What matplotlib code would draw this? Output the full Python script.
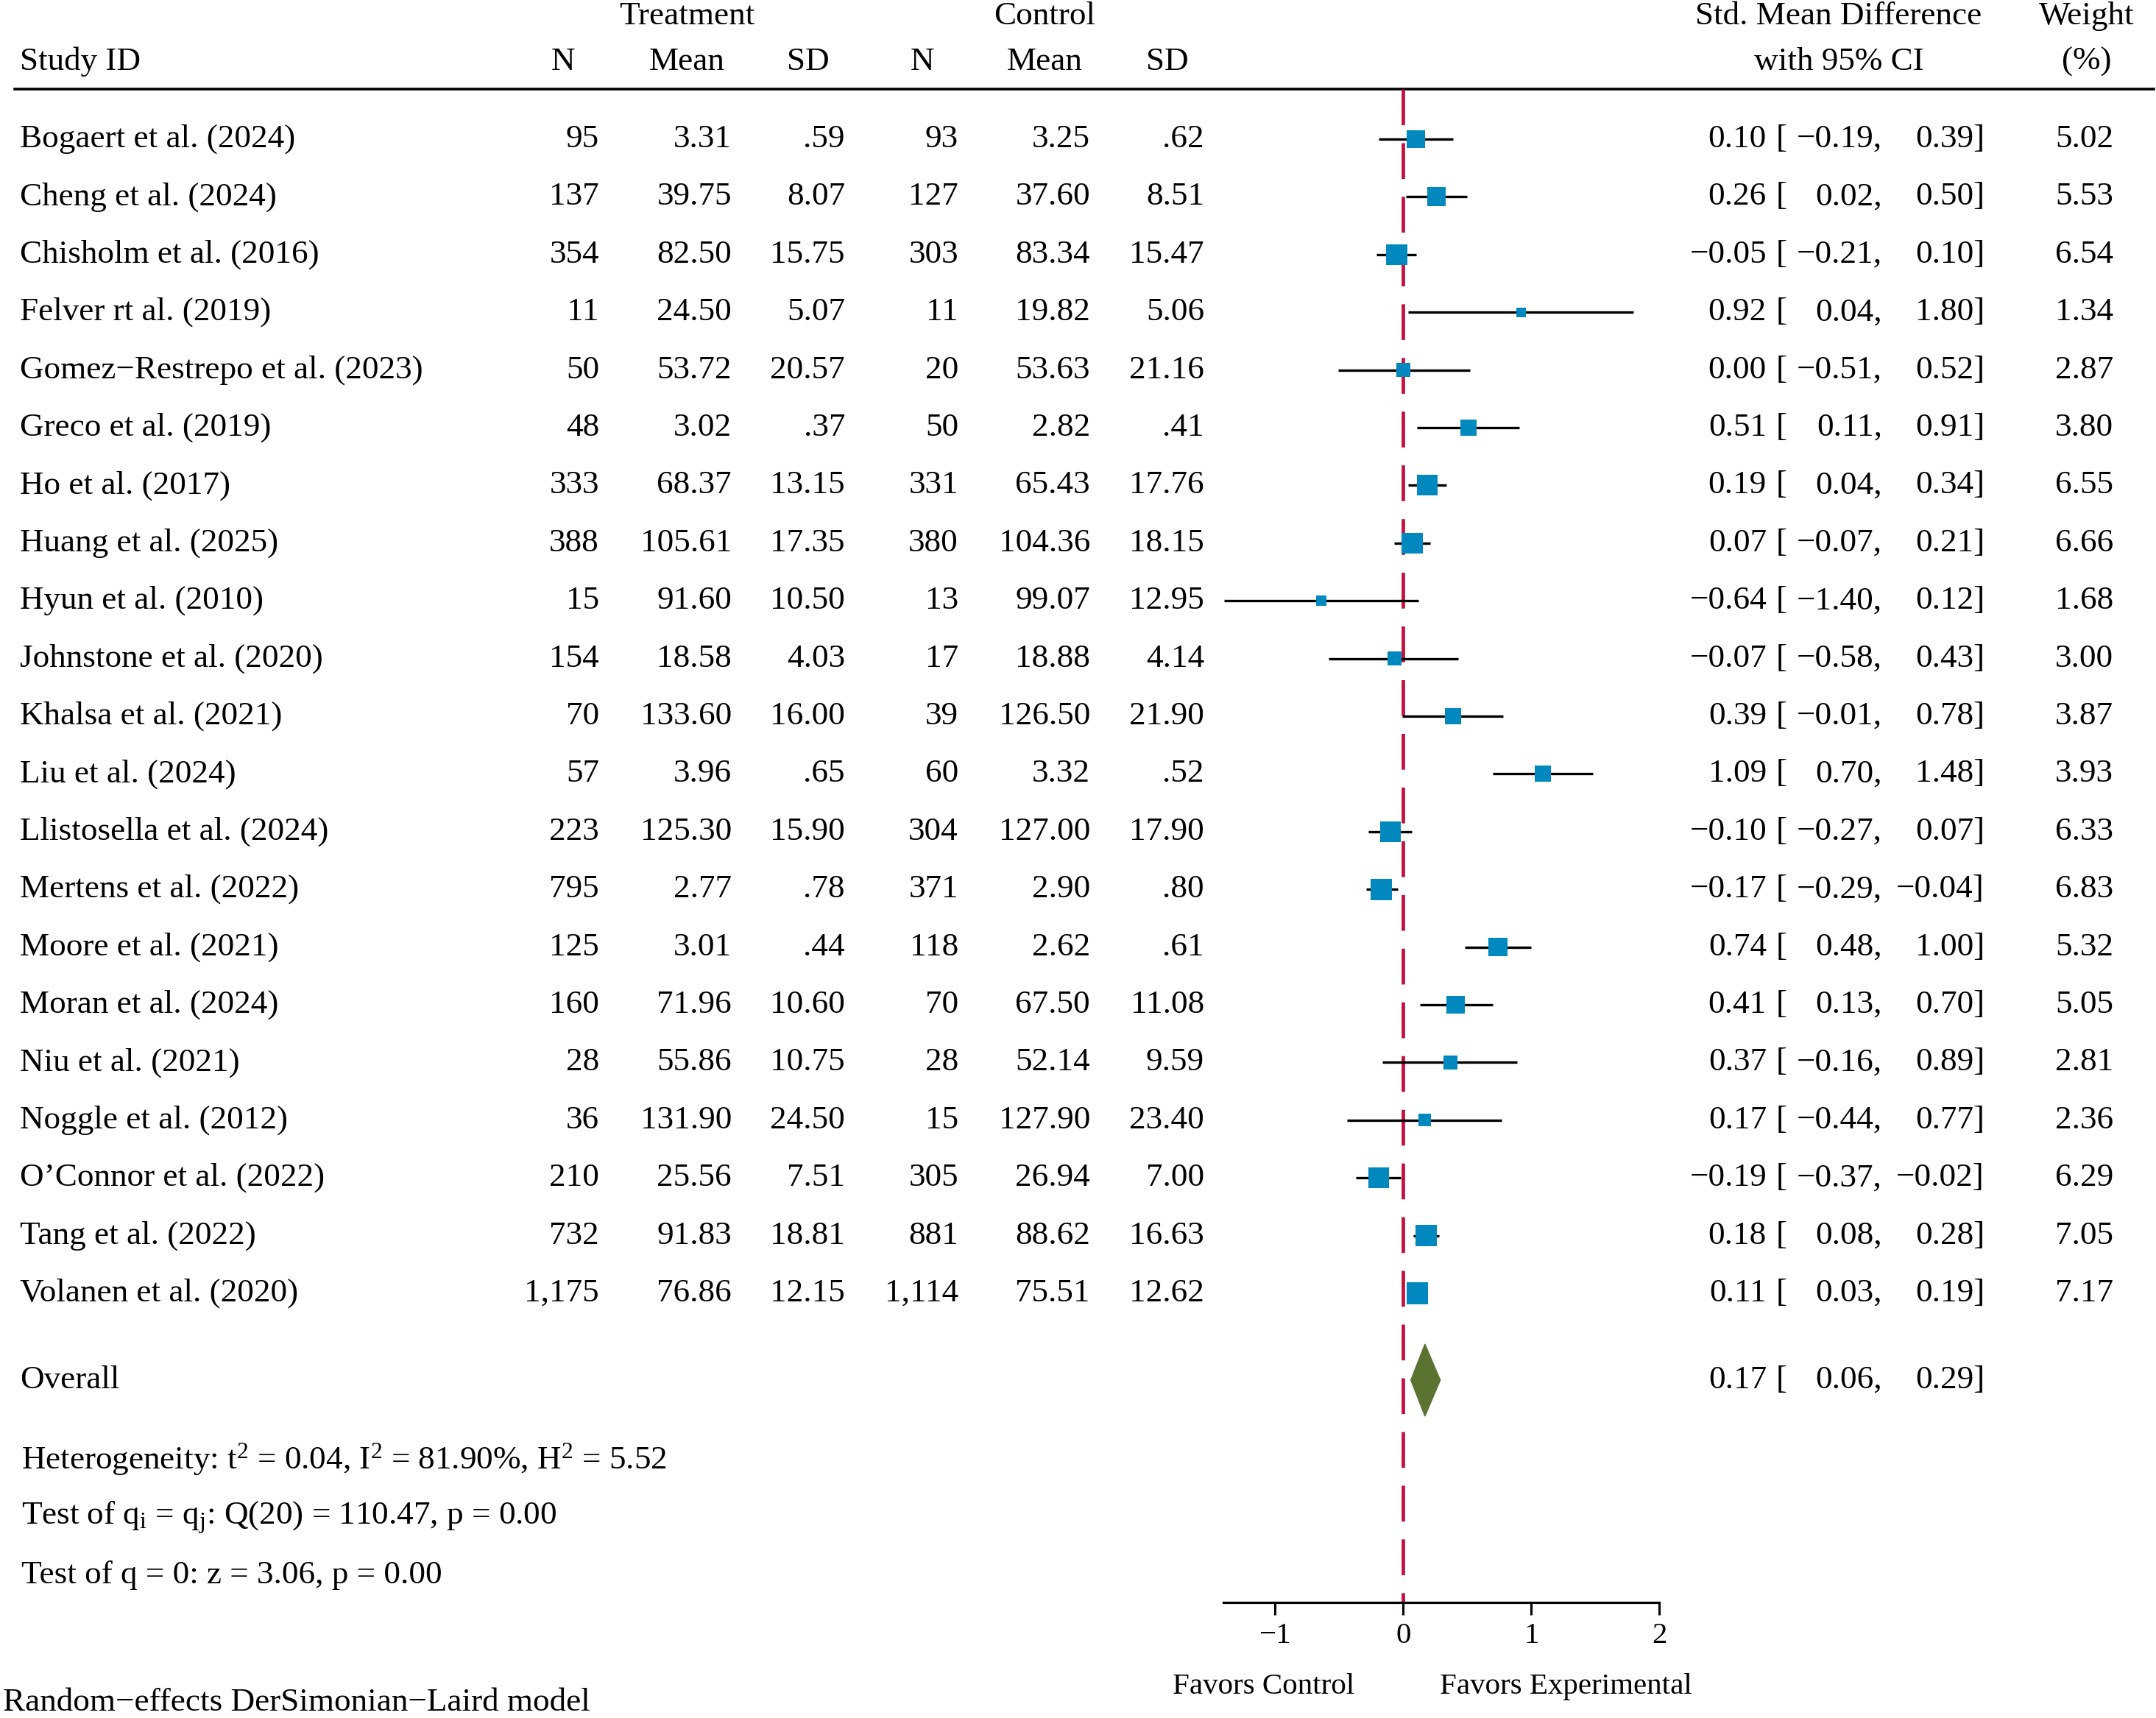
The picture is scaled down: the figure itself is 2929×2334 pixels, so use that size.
"""
Forest plot: standardized mean difference, random-effects meta-analysis
"""

import matplotlib
matplotlib.use('Agg')
import matplotlib.pyplot as plt
from matplotlib.patches import Polygon
import numpy as np

#---------------------------------------------------------------------------------------------------
# Data
#---------------------------------------------------------------------------------------------------

studies = ['Bogaert et al. (2024)', 'Cheng et al. (2024)', 'Chisholm et al. (2016)',
           'Felver rt al. (2019)', 'Gomez\u2212Restrepo et al. (2023)', 'Greco et al. (2019)',
           'Ho et al. (2017)', 'Huang et al. (2025)', 'Hyun et al. (2010)',
           'Johnstone et al. (2020)', 'Khalsa et al. (2021)', 'Liu et al. (2024)',
           'Llistosella et al. (2024)', 'Mertens et al. (2022)', 'Moore et al. (2021)',
           'Moran et al. (2024)', 'Niu et al. (2021)', 'Noggle et al. (2012)',
           'O\u2019Connor et al. (2022)', 'Tang et al. (2022)', 'Volanen et al. (2020)']

t_n = [95, 137, 354, 11, 50, 48, 333, 388, 15, 154, 70, 57, 223, 795, 125, 160, 28, 36, 210, 732, 1175]
t_mean = [3.31, 39.75, 82.50, 24.50, 53.72, 3.02, 68.37, 105.61, 91.60, 18.58, 133.60, 3.96,
          125.30, 2.77, 3.01, 71.96, 55.86, 131.90, 25.56, 91.83, 76.86]
t_sd = [0.59, 8.07, 15.75, 5.07, 20.57, 0.37, 13.15, 17.35, 10.50, 4.03, 16.00, 0.65, 15.90,
        0.78, 0.44, 10.60, 10.75, 24.50, 7.51, 18.81, 12.15]

c_n = [93, 127, 303, 11, 20, 50, 331, 380, 13, 17, 39, 60, 304, 371, 118, 70, 28, 15, 305, 881, 1114]
c_mean = [3.25, 37.60, 83.34, 19.82, 53.63, 2.82, 65.43, 104.36, 99.07, 18.88, 126.50, 3.32,
          127.00, 2.90, 2.62, 67.50, 52.14, 127.90, 26.94, 88.62, 75.51]
c_sd = [0.62, 8.51, 15.47, 5.06, 21.16, 0.41, 17.76, 18.15, 12.95, 4.14, 21.90, 0.52, 17.90,
        0.80, 0.61, 11.08, 9.59, 23.40, 7.00, 16.63, 12.62]

smd = [0.10, 0.26, -0.05, 0.92, 0.00, 0.51, 0.19, 0.07, -0.64, -0.07, 0.39, 1.09, -0.10, -0.17,
       0.74, 0.41, 0.37, 0.17, -0.19, 0.18, 0.11]
ci_lo = [-0.19, 0.02, -0.21, 0.04, -0.51, 0.11, 0.04, -0.07, -1.40, -0.58, -0.01, 0.70, -0.27,
         -0.29, 0.48, 0.13, -0.16, -0.44, -0.37, 0.08, 0.03]
ci_hi = [0.39, 0.50, 0.10, 1.80, 0.52, 0.91, 0.34, 0.21, 0.12, 0.43, 0.78, 1.48, 0.07, -0.04,
         1.00, 0.70, 0.89, 0.77, -0.02, 0.28, 0.19]
weight = [5.02, 5.53, 6.54, 1.34, 2.87, 3.80, 6.55, 6.66, 1.68, 3.00, 3.87, 3.93, 6.33, 6.83,
          5.32, 5.05, 2.81, 2.36, 6.29, 7.05, 7.17]

overall = (0.17, 0.06, 0.29)

stats_lines = ['Heterogeneity: t$^{2}$ = 0.04, I$^{2}$ = 81.90%, H$^{2}$ = 5.52',
               'Test of q$_{\\mathrm{i}}$ = q$_{\\mathrm{j}}$: Q(20) = 110.47, p = 0.00',
               'Test of q = 0: z = 3.06, p = 0.00']
model_note = 'Random\u2212effects DerSimonian\u2212Laird model'

xticks = [-1, 0, 1, 2]

#---------------------------------------------------------------------------------------------------
# Styling / layout (pixels on a 2929 x 2334 canvas)
#---------------------------------------------------------------------------------------------------

W, H = 2929, 2334
row0, drow = 189, 78.4          # pixel y of first study row, row spacing
fs = 32.5                       # table text
fs_small = 29.5                 # tick labels / favors labels
blue = '#0088BF'
red = '#C4103E'
green = '#5A7330'

plt.rcParams['font.family'] = ['Liberation Serif', 'DejaVu Serif']
plt.rcParams['mathtext.fontset'] = 'custom'
plt.rcParams['mathtext.rm'] = 'Liberation Serif'
plt.rcParams['mathtext.it'] = 'Liberation Serif:italic'
plt.rcParams['axes.unicode_minus'] = True


def row_of(py):
    return (py - row0) / drow


def fmt_sd(v):
    s = f'{v:.2f}'
    return s[1:] if s.startswith('0') else s


def fmt_num(v):
    return f'{v:.2f}'.replace('-', '\u2212')


fig = plt.figure(figsize=(W / 100, H / 100), dpi=100)

# Text layer: x in pixels, y in row units
ax_t = fig.add_axes([0, 0, 1, 1])
ax_t.set_xlim(0, W)
ax_t.set_ylim(row_of(H), row_of(0))
ax_t.axis('off')

# Forest panel
fx0, fx1 = 1662, 2254
fy0, fy1 = 121, 2177
ax_f = fig.add_axes([fx0 / W, (H - fy1) / H, (fx1 - fx0) / W, (fy1 - fy0) / H])
ax_f.set_xlim(-1.405, 2.0)
ax_f.set_ylim(row_of(fy1), row_of(fy0))
ax_f.patch.set_alpha(0)
for s in ['top', 'left', 'right']:
    ax_f.spines[s].set_visible(False)
ax_f.spines['bottom'].set_linewidth(2.3)
ax_f.set_yticks([])
ax_f.set_xticks(xticks)
ax_f.tick_params(axis='x', direction='out', length=12.5, width=2.2, pad=7, labelsize=fs_small)

rows = np.arange(len(studies))

# Null line
ytop, ybot = ax_f.get_ylim()[1], ax_f.get_ylim()[0]
ax_f.plot([0, 0], [ytop, ybot], color=red, lw=3.4, ls=(0, (10.3, 5.15)), zorder=1,
          solid_capstyle='butt', dash_capstyle='butt')

# CIs and weighted squares
ax_f.hlines(rows, ci_lo, ci_hi, color='black', lw=2.4, zorder=2)
side_px = 29.5 * np.sqrt(np.array(weight) / max(weight))
ax_f.scatter(smd, rows, marker='s', s=(side_px * 0.72) ** 2, color=blue, edgecolors='none',
             zorder=3)

# Overall diamond
r_ov = row_of(1875)
half_h = 49 / drow
ax_f.add_patch(Polygon([[overall[1], r_ov], [overall[0], r_ov - half_h],
                        [overall[2], r_ov], [overall[0], r_ov + half_h]],
                       closed=True, color=green, zorder=3))

# Header
r_h1, r_h2 = row_of(22), row_of(84)
ax_t.text(933, r_h1, 'Treatment', ha='center', va='center', fontsize=fs)
ax_t.text(1419, r_h1, 'Control', ha='center', va='center', fontsize=fs)
ax_t.text(2498, r_h1, 'Std. Mean Difference', ha='center', va='center', fontsize=fs)
ax_t.text(2835, r_h1, 'Weight', ha='center', va='center', fontsize=fs)
ax_t.text(27, r_h2, 'Study ID', ha='left', va='center', fontsize=fs)
for xc, lab in zip([765, 933, 1098, 1253, 1419, 1586], ['N', 'Mean', 'SD', 'N', 'Mean', 'SD']):
    ax_t.text(xc, r_h2, lab, ha='center', va='center', fontsize=fs)
ax_t.text(2498, r_h2, 'with 95% CI', ha='center', va='center', fontsize=fs)
ax_t.text(2835, r_h2, '(%)', ha='center', va='center', fontsize=fs)
ax_t.plot([20, 2926], [row_of(121), row_of(121)], color='black', lw=2.6)

# Study rows
for i in rows:
    ax_t.text(27, i, studies[i], ha='left', va='center', fontsize=fs)
    ax_t.text(814, i, f'{t_n[i]:,}', ha='right', va='center', fontsize=fs)
    ax_t.text(994, i, f'{t_mean[i]:.2f}', ha='right', va='center', fontsize=fs)
    ax_t.text(1148, i, fmt_sd(t_sd[i]), ha='right', va='center', fontsize=fs)
    ax_t.text(1302, i, f'{c_n[i]:,}', ha='right', va='center', fontsize=fs)
    ax_t.text(1481, i, f'{c_mean[i]:.2f}', ha='right', va='center', fontsize=fs)
    ax_t.text(1636, i, fmt_sd(c_sd[i]), ha='right', va='center', fontsize=fs)
    ax_t.text(2400, i, fmt_num(smd[i]), ha='right', va='center', fontsize=fs)
    ax_t.text(2413, i, '[', ha='left', va='center', fontsize=fs)
    ax_t.text(2557, i, fmt_num(ci_lo[i]) + ',', ha='right', va='center', fontsize=fs)
    ax_t.text(2696, i, fmt_num(ci_hi[i]) + ']', ha='right', va='center', fontsize=fs)
    ax_t.text(2871, i, f'{weight[i]:.2f}', ha='right', va='center', fontsize=fs)

# Overall row
ax_t.text(27, r_ov, 'Overall', ha='left', va='center', fontsize=fs)
ax_t.text(2400, r_ov, fmt_num(overall[0]), ha='right', va='center', fontsize=fs)
ax_t.text(2413, r_ov, '[', ha='left', va='center', fontsize=fs)
ax_t.text(2557, r_ov, fmt_num(overall[1]) + ',', ha='right', va='center', fontsize=fs)
ax_t.text(2696, r_ov, fmt_num(overall[2]) + ']', ha='right', va='center', fontsize=fs)

# Heterogeneity statistics
for k, line in enumerate(stats_lines):
    ax_t.text(29, row_of(1983 + 78.4 * k), line, ha='left', va='center', fontsize=fs)

# Favors labels and model note
ax_t.text(1717, row_of(2291), 'Favors Control', ha='center', va='center', fontsize=fs_small)
ax_t.text(2127, row_of(2291), 'Favors Experimental', ha='center', va='center', fontsize=fs_small)
ax_t.text(4, row_of(2313), model_note, ha='left', va='center', fontsize=fs)

fig.savefig('out.png', dpi=100)
plt.close(fig)
